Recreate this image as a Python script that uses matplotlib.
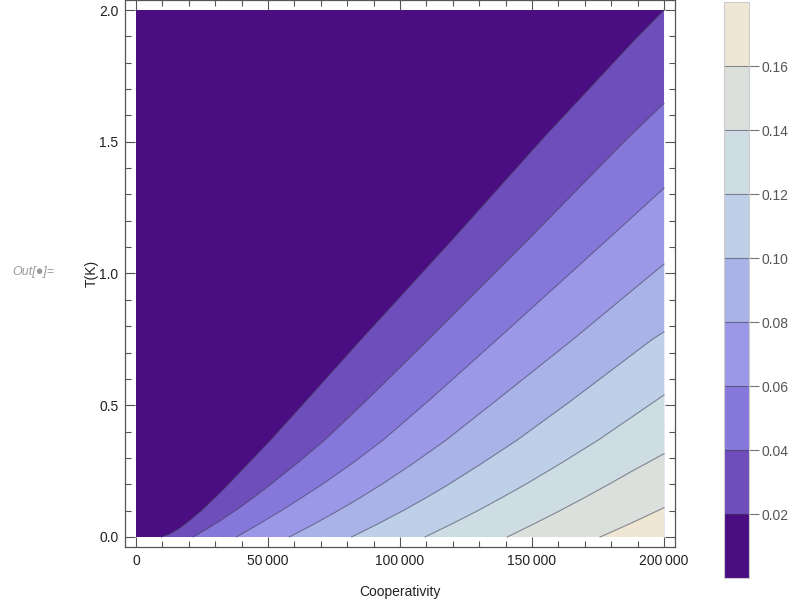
import numpy as np
import matplotlib
matplotlib.use("Agg")
import matplotlib.pyplot as plt
from matplotlib.colors import ListedColormap, BoundaryNorm
from matplotlib.cm import ScalarMappable
from matplotlib.ticker import MultipleLocator, FuncFormatter

# contour levels and band colours (lowest band first)
levels = [0.02, 0.04, 0.06, 0.08, 0.10, 0.12, 0.14, 0.16]
band_colors = ["#4a0d82", "#6e4eba", "#8677db", "#9c98e8", "#a9b3e7",
               "#bdd0e8", "#cedce3", "#dce0dc", "#efe6d4"]

# contour lines: Cooperativity (x) vs T (y)
c002_x = [9700, 12500, 16000, 20000, 24800, 30000, 35000, 42600, 51000,
          64700, 85100, 119700, 153600, 188800, 200000]
c002_y = [0.0, 0.01, 0.03, 0.06, 0.10, 0.15, 0.20, 0.28, 0.368,
          0.52, 0.748, 1.127, 1.507, 1.886, 2.0]
c004_x = [21700, 26800, 31600, 37600, 44600, 51100, 61100, 71500,
          87500, 110600, 148400, 185600, 200000]
c004_y = [0.0, 0.03, 0.06, 0.10, 0.15, 0.20, 0.28, 0.368,
          0.52, 0.748, 1.127, 1.507, 1.646]
c006_x = [38100, 46700, 55100, 62900, 70600, 82000, 93600, 111200,
          136600, 178400, 200000]
c006_y = [0.0, 0.05, 0.10, 0.15, 0.20, 0.28, 0.368, 0.52,
          0.748, 1.127, 1.324]
c008_x = [58100, 67600, 76600, 85100, 93100, 105100, 117500, 136700,
          165300, 200000]
c008_y = [0.0, 0.05, 0.10, 0.15, 0.20, 0.28, 0.368, 0.52,
          0.748, 1.036]
c010_x = [81700, 91700, 101200, 110100, 118500, 131100, 144400, 165200,
          195300, 200000]
c010_y = [0.0, 0.05, 0.10, 0.15, 0.20, 0.28, 0.368, 0.52,
          0.748, 0.779]
c012_x = [109500, 119700, 129500, 138700, 147600, 161000, 175100, 200000]
c012_y = [0.0, 0.05, 0.10, 0.15, 0.20, 0.28, 0.368, 0.539]
c014_x = [140600, 150800, 160600, 170000, 179100, 187900, 200000]
c014_y = [0.0, 0.05, 0.10, 0.15, 0.20, 0.25, 0.316]
c016_x = [175800, 187000, 200000]
c016_y = [0.0, 0.05, 0.111]

contours = [(c002_x, c002_y), (c004_x, c004_y), (c006_x, c006_y), (c008_x, c008_y),
            (c010_x, c010_y), (c012_x, c012_y), (c014_x, c014_y), (c016_x, c016_y)]

xmax, ymax = 200000, 2.0

plt.rcParams['font.family'] = ['Liberation Sans', 'DejaVu Sans']
fig = plt.figure(figsize=(7.93, 6.10), dpi=100)
ax = fig.add_axes([125.4 / 793, 63 / 610, 549.2 / 793, 547 / 610])

# bands: paint the whole domain, then each region past a contour on top
ax.fill([0, xmax, xmax, 0], [0, 0, ymax, ymax], color=band_colors[0], lw=0)
for i, (cx, cy) in enumerate(contours):
    ax.fill(list(cx) + [xmax], list(cy) + [0], color=band_colors[i + 1], lw=0)
for cx, cy in contours:
    ax.plot(cx, cy, color="#3c3c50", alpha=0.55, lw=0.8)

ax.set_xlim(-4000, 204000)
ax.set_ylim(-0.038, 2.038)
ax.xaxis.set_major_locator(MultipleLocator(50000))
ax.xaxis.set_minor_locator(MultipleLocator(10000))
ax.yaxis.set_major_locator(MultipleLocator(0.5))
ax.yaxis.set_minor_locator(MultipleLocator(0.1))
ax.xaxis.set_major_formatter(FuncFormatter(
    lambda v, p: f"{int(round(v)):,}".replace(",", "\u2009")))
ax.yaxis.set_major_formatter(FuncFormatter(lambda v, p: f"{v:.1f}"))
ax.tick_params(which='both', direction='in', top=True, right=True,
               color='#555555', width=0.8, labelsize=10, labelcolor='#222222')
ax.tick_params(which='major', length=7, pad=5)
ax.tick_params(which='minor', length=4)
for s in ax.spines.values():
    s.set_color('#555555')
    s.set_linewidth(0.9)

fig.text(400 / 793, 1 - 592 / 610, "Cooperativity", ha='center', va='center',
         fontsize=10, color='#222222')
fig.text(92 / 793, 1 - 273 / 610, "T(K)", ha='center', va='center',
         rotation=90, fontsize=10, color='#222222')
fig.text(33 / 793, 1 - 272 / 610, "Out[\u25cf]=", ha='center', va='center',
         fontsize=9, color='#999999', style='italic')

# colour bar
cax = fig.add_axes([724 / 793, 1 - 578 / 610, 25 / 793, 576 / 610])
bounds = [0.0] + levels + [0.18]
norm = BoundaryNorm(bounds, len(band_colors))
cb = fig.colorbar(ScalarMappable(norm=norm, cmap=ListedColormap(band_colors)),
                  cax=cax, ticks=levels)
cb.ax.set_yticklabels([f"{l:.2f}" for l in levels])
cb.ax.minorticks_off()
cb.outline.set_edgecolor('#cccccc')
cb.outline.set_linewidth(0.8)
for l in levels:
    cax.axhline(l, color='#3c3c50', alpha=0.55, lw=0.8)
cax.tick_params(direction='out', length=7, width=0.8, color='#777777',
                labelsize=10, labelcolor='#555555', pad=2)

fig.savefig("out.png", dpi=100)
